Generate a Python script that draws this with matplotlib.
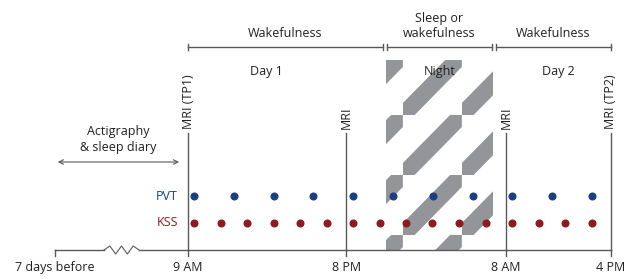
import numpy as np
import matplotlib.pyplot as plt
from matplotlib.patches import Polygon, Rectangle

plt.rcParams['font.family'] = ['Open Sans', 'DejaVu Sans']

# schematic time axis: hours after 9 AM on day 1, as drawn
tick_labels = ["7 days before", "9 AM", "8 PM", "8 AM", "4 PM"]
tick_pos = [-9.75, 0.0, 11.6, 23.3, 31.0]

mri_labels = ["MRI (TP1)", "MRI", "MRI", "MRI (TP2)"]
mri_pos = [0.0, 11.6, 23.3, 31.0]

pvt_times = [0.46, 3.39, 6.30, 9.19, 12.12, 15.02, 17.93, 20.86, 23.77, 26.68, 29.60]
kss_times = [0.46, 2.40, 4.35, 6.30, 8.23, 10.17, 12.12, 14.07, 15.98, 17.91,
             19.86, 21.82, 23.77, 25.72, 27.63, 29.60]

period_labels = ["Wakefulness", "Sleep or\nwakefulness", "Wakefulness"]
period_start = [0.0, 14.55, 22.55]
period_end = [14.3, 22.3, 31.0]

day_labels = ["Day 1", "Night", "Day 2"]
day_pos = [5.75, 18.45, 27.15]

night_start = 14.5
night_end = 22.35
acti_start = -9.75
acti_end = -0.45

# colours
TXT = "#231f20"
LINE = "#58595b"
GREY = "#939598"
BLUE = "#1c3f84"
RED = "#8c1b1f"

# figure in pixel rows (y) and hours (x)
s = 13.645  # px per hour
fig = plt.figure(figsize=(6.35, 2.79), dpi=100)
ax = fig.add_axes([0, 0, 1, 1])
ax.set_xlim(-188 / s, (635 - 188) / s)
ax.set_ylim(279, 0)
ax.axis("off")

y_brk = 47
y_day = 72
y_base = 250
y_pvt = 196
y_kss = 223

fs = 9

# Night: tiled diagonal pattern (tile 59 x 60 px, band through tile corners)
y_top, y_bot = 60, y_base
tw = 59 / s
th = 60
half = 12
tx0 = night_start + 17 / s - tw
ty0 = 115 - 3 * th
for i in range(4):
    hx = tx0 + i * tw
    for j in range(6):
        ty = ty0 + j * th
        cx0, cx1 = max(hx, night_start), min(hx + tw, night_end)
        cy0, cy1 = max(ty, y_top), min(ty + th, y_bot)
        if cx1 <= cx0 or cy1 <= cy0:
            continue
        verts = [(hx, ty + th - half), (hx, ty + th + half),
                 (hx + tw, ty + half), (hx + tw, ty - half)]
        p = Polygon(verts, closed=True, facecolor=GREY, edgecolor="none", zorder=1)
        ax.add_patch(p)
        p.set_clip_path(Rectangle((cx0, cy0), cx1 - cx0, cy1 - cy0, transform=ax.transData))

# brackets at top
for lab, a, b in zip(period_labels, period_start, period_end):
    ax.plot([a, b], [y_brk, y_brk], color=LINE, lw=1.0, zorder=2)
    ax.plot([a, a], [y_brk - 3, y_brk + 3], color=LINE, lw=1.0, zorder=2)
    ax.plot([b, b], [y_brk - 3, y_brk + 3], color=LINE, lw=1.0, zorder=2)
    ax.text((a + b) / 2, y_brk - 7, lab, ha="center", va="bottom", fontsize=fs,
            color=TXT, linespacing=1.2)

for lab, x in zip(day_labels, day_pos):
    ax.text(x, y_day, lab, ha="center", va="center", fontsize=fs, color=TXT, zorder=3)

# MRI lines
for lab, x in zip(mri_labels, mri_pos):
    ax.plot([x, x], [133, y_base], color=LINE, lw=1.0, zorder=2)
    ax.text(x, 129, lab, rotation=90, ha="center", va="bottom", fontsize=fs, color=TXT)

# baseline with break
za, zb = (104 - 188) / s, (139 - 188) / s
zz_x = np.linspace(za, zb, 7)
zz_y = y_base + 4 * np.array([0, -1, 1, -1, 1, -1, 0])
ax.plot([tick_pos[0], za], [y_base, y_base], color=LINE, lw=1.0, zorder=4)
ax.plot(zz_x, zz_y, color=LINE, lw=0.8, zorder=4)
ax.plot([zb, tick_pos[-1]], [y_base, y_base], color=LINE, lw=1.0, zorder=4)
for lab, x in zip(tick_labels, tick_pos):
    ax.plot([x, x], [y_base, y_base + 6], color=LINE, lw=1.0, zorder=4)
    ax.text(x, y_base + 11, lab, ha="center", va="top", fontsize=fs, color=TXT)

# actigraphy arrow
ax.annotate("", xy=(acti_end, 162), xytext=(acti_start, 162),
            arrowprops=dict(arrowstyle="<->", color=LINE, lw=0.8, mutation_scale=8))
ax.text((acti_start + acti_end) / 2, 140, "Actigraphy\n& sleep diary", ha="center",
        va="center", fontsize=fs, color=TXT, linespacing=1.3)

# measurements
ax.plot(pvt_times, [y_pvt] * len(pvt_times), "o", color=BLUE, ms=4.8, zorder=5)
ax.plot(kss_times, [y_kss] * len(kss_times), "o", color=RED, ms=4.8, zorder=5)
ax.text(-0.75, y_pvt, "PVT", ha="right", va="center", fontsize=fs, color=BLUE)
ax.text(-0.75, y_kss, "KSS", ha="right", va="center", fontsize=fs, color=RED)

fig.savefig("out.png", dpi=100)
